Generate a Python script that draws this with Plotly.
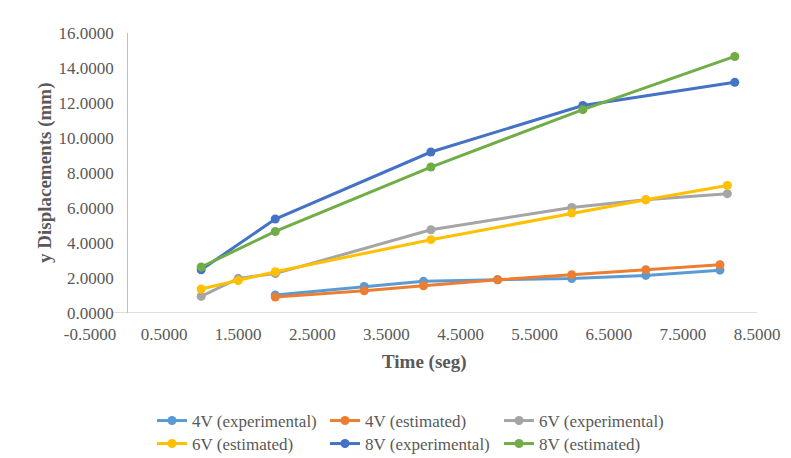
import plotly.graph_objects as go

# ---- data ----
names = ["4V (experimental)", "4V (estimated)", "6V (experimental)",
         "6V (estimated)", "8V (experimental)", "8V (estimated)"]
colors = ["#5B9BD5", "#ED7D31", "#A5A5A5", "#FFC000", "#4472C4", "#70AD47"]

x_4v = [2, 3.2, 4, 5, 6, 7, 8]
y_4v_exp = [1.03, 1.52, 1.81, 1.9, 1.97, 2.15, 2.45]
y_4v_est = [0.91, 1.27, 1.56, 1.9, 2.19, 2.47, 2.76]

x_6v = [1, 1.5, 2, 4.1, 6, 7, 8.1]
y_6v_exp = [0.95, 1.98, 2.25, 4.76, 6.03, 6.47, 6.82]
y_6v_est = [1.37, 1.85, 2.36, 4.19, 5.71, 6.47, 7.29]

x_8v = [1, 2, 4.1, 6.15, 8.2]
y_8v_exp = [2.47, 5.37, 9.2, 11.86, 13.18]
y_8v_est = [2.63, 4.66, 8.34, 11.62, 14.66]

x_ticks = [-0.5, 0.5, 1.5, 2.5, 3.5, 4.5, 5.5, 6.5, 7.5, 8.5]
x_tick_labels = ["-0.5000", "0.5000", "1.5000", "2.5000", "3.5000",
                 "4.5000", "5.5000", "6.5000", "7.5000", "8.5000"]
y_ticks = [0, 2, 4, 6, 8, 10, 12, 14, 16]
y_tick_labels = ["0.0000", "2.0000", "4.0000", "6.0000", "8.0000",
                 "10.0000", "12.0000", "14.0000", "16.0000"]

series = [
    (x_4v, y_4v_exp), (x_4v, y_4v_est),
    (x_6v, y_6v_exp), (x_6v, y_6v_est),
    (x_8v, y_8v_exp), (x_8v, y_8v_est),
]

W, H = 791, 458
FONT = "Liberation Serif"
GREY = "#595959"

fig = go.Figure()
legend_keys = ["legend", "legend2", "legend3", "legend4", "legend5", "legend6"]
for i, ((xs, ys), nm, col) in enumerate(zip(series, names, colors)):
    fig.add_trace(go.Scatter(
        x=xs, y=ys, name=nm, mode="lines+markers",
        line=dict(color=col, width=3),
        marker=dict(color=col, size=9),
        legend=legend_keys[i],
    ))

# legend positions (pixels): column origin x, row top y
col_x = [152, 325, 499]
row_top = [403, 426]
legend_layout = {}
for i, key in enumerate(legend_keys):
    r, c = divmod(i, 3)
    legend_layout[key] = dict(
        xref="container", yref="container",
        x=col_x[c] / W, y=1 - row_top[r] / H,
        xanchor="left", yanchor="top",
        orientation="h", bgcolor="rgba(0,0,0,0)",
        font=dict(family=FONT, size=17, color=GREY),
    )

fig.update_layout(
    width=W, height=H,
    margin=dict(l=90, r=34, t=33, b=145),
    paper_bgcolor="white", plot_bgcolor="white",
    font=dict(family=FONT, size=17, color=GREY),
    showlegend=True,
    **legend_layout,
    xaxis=dict(
        range=[-0.5, 8.5], tickvals=x_ticks, ticktext=x_tick_labels,
        showgrid=False, zeroline=False, showline=False,
        ticks="", ticklabelstandoff=9,
        tickfont=dict(family=FONT, size=17, color=GREY),
    ),
    yaxis=dict(
        range=[0, 16], tickvals=y_ticks, ticktext=y_tick_labels,
        showgrid=False, zeroline=False, showline=True,
        linecolor="#BFBFBF", linewidth=1,
        anchor="free", position=0.5 / 9,
        ticks="", ticklabelstandoff=10,
        tickfont=dict(family=FONT, size=17, color=GREY),
    ),
    shapes=[dict(type="line", xref="x", yref="y", x0=-0.2, x1=8.5, y0=0, y1=0,
                 line=dict(color="#BFBFBF", width=1), layer="below")],
    annotations=[
        dict(text="<b>Time (seg)</b>", xref="paper", yref="paper",
             x=(424 - 90) / 667, y=(313.3 - 362) / 280,
             xanchor="center", yanchor="middle", showarrow=False,
             font=dict(family=FONT, size=19, color=GREY)),
        dict(text="<b>y Displacements (mm)</b>", xref="paper", yref="paper",
             x=(45 - 90) / 667, y=0.5, textangle=-90,
             xanchor="center", yanchor="middle", showarrow=False,
             font=dict(family=FONT, size=19, color=GREY)),
    ],
)

fig.write_html("out.html")
